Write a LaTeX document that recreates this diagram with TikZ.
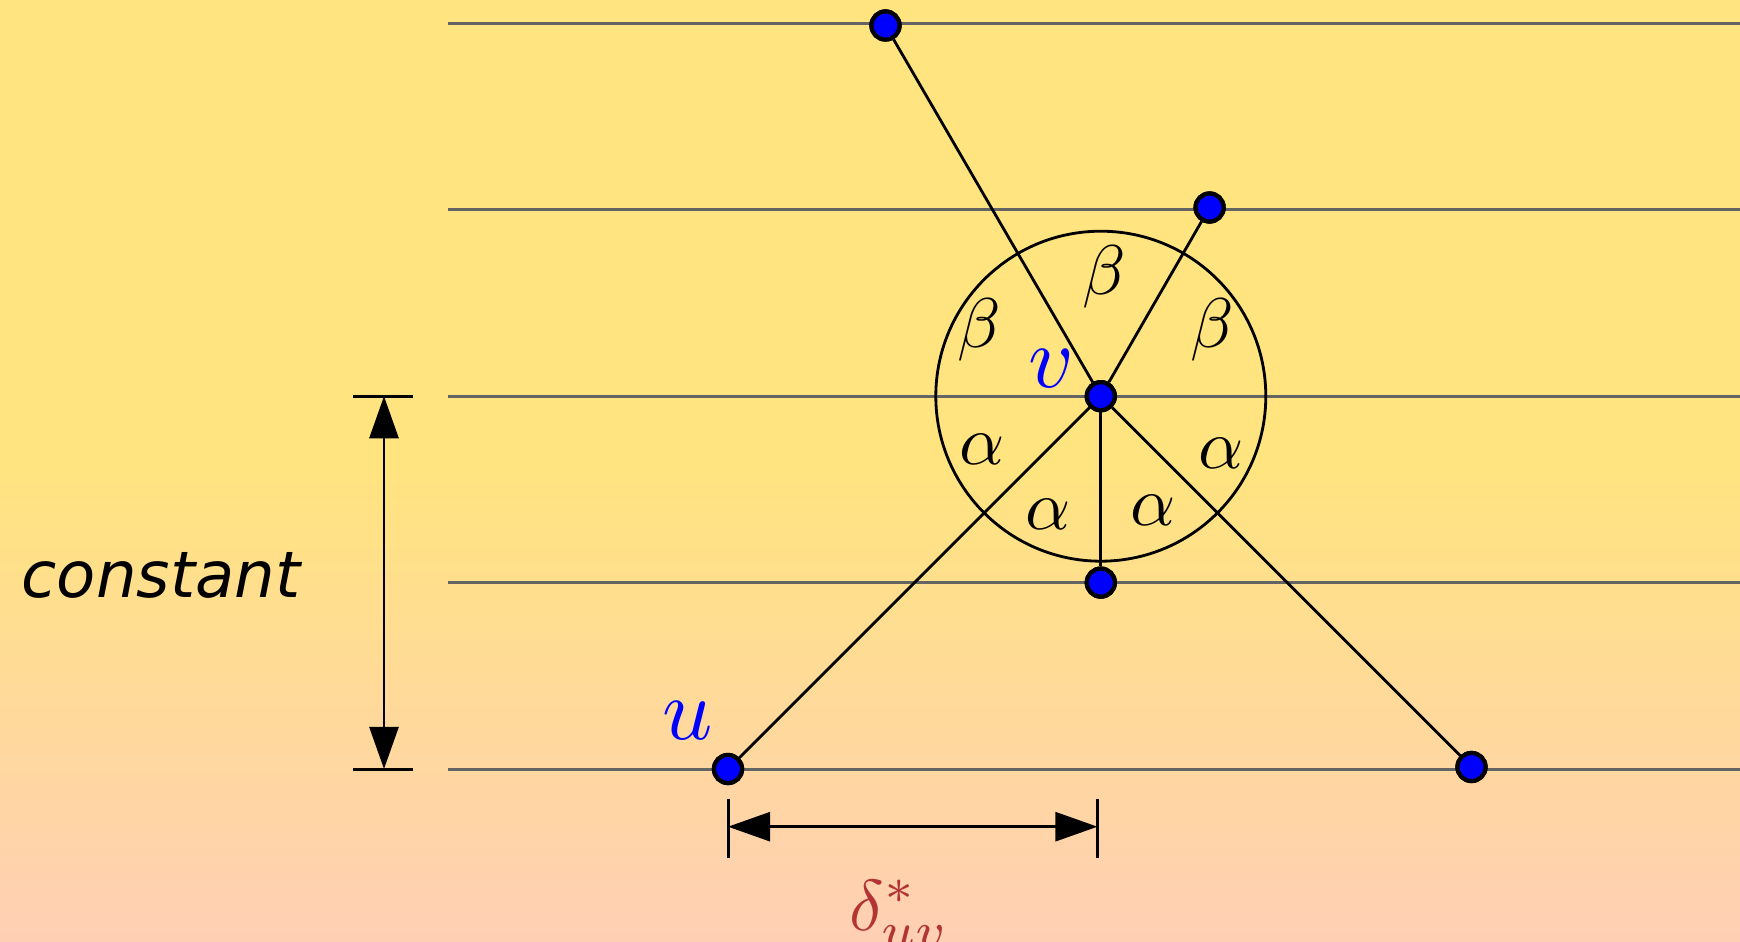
\documentclass[tikz,border=0pt]{standalone}
\usepackage{fontspec}
\newfontfamily\dejavu{DejaVu Sans}
\usetikzlibrary{arrows.meta}
\definecolor{bgtop}{RGB}{255,228,128}
\definecolor{bgbot}{RGB}{255,207,180}
\definecolor{gridgray}{RGB}{100,100,100}
\definecolor{ptblue}{RGB}{0,0,255}
\definecolor{deltared}{RGB}{178,52,52}
\tikzset{
  gridline/.style={draw=gridgray, line width=1.7pt},
  edge/.style={draw=black, line width=1.6pt},
  pt/.style={circle, fill=ptblue, draw=black, line width=2.4pt, minimum size=16pt, inner sep=0pt},
  greek/.style={scale=4, inner sep=0pt},
  vlabel/.style={scale=5, text=ptblue, inner sep=0pt},
  dimline/.style={draw=black, line width=1.7pt},
  dimarrow/.style={dimline, {Triangle[width=16.5pt,length=24pt]}-{Triangle[width=16.5pt,length=24pt]}},
}
\begin{document}
\begin{tikzpicture}[x=0.02cm, y=-0.02cm]
\useasboundingbox (0,0) rectangle (1740,942);
\fill[bgtop] (0,0) rectangle (1740,471);
\shade[top color=bgtop, bottom color=bgbot] (0,470) rectangle (1740,942);
% horizontal levels
\foreach \i/\yy in {1/23.3, 2/209.7, 3/396.2, 4/582.6, 5/769} {
  \coordinate (L\i) at (448,\yy);
  \coordinate (R\i) at (1740,\yy);
  \draw[gridline] (L\i) -- (R\i);
}
% circle around v
\coordinate (vc) at (1100.8,396.2);
\draw[edge] (vc) circle [radius=165];
% nodes
\node[pt] (top) at (885.5,25.5) {};
\node[pt] (tr) at (1209.6,207.5) {};
\node[pt] (v) at (vc) {};
\node[pt] (low) at (1100.8,582.6) {};
\node[pt] (u) at (728,769) {};
\node[pt] (br) at (1471.5,767) {};
\draw[edge] (v) -- (top);
\draw[edge] (v) -- (tr);
\draw[edge] (v) -- (low);
\draw[edge] (v) -- (u);
\draw[edge] (v) -- (br);
% redraw nodes on top
\node[pt] at (top) {};
\node[pt] at (tr) {};
\node[pt] at (v) {};
\node[pt] at (low) {};
\node[pt] at (u) {};
\node[pt] at (br) {};
% angle labels
\node[greek] (b1) at (1104,277) {$\beta$};
\node[greek] (b2) at (979,330) {$\beta$};
\node[greek] (b3) at (1212,330) {$\beta$};
\node[greek] (a1) at (982,449) {$\alpha$};
\node[greek] (a2) at (1221,453) {$\alpha$};
\node[greek] (a3) at (1048,514) {$\alpha$};
\node[greek] (a4) at (1153,510) {$\alpha$};
\node[vlabel] (vl) at (1051,369) {$v$};
\node[vlabel] (ul) at (688,721) {$u$};
% vertical dimension
\coordinate (vt1) at (353,396.2);
\coordinate (vt2) at (413,396.2);
\coordinate (vb1) at (353,769);
\coordinate (vb2) at (413,769);
\coordinate (va) at (384,396.2);
\coordinate (vb) at (384,769);
\draw[dimline] (vt1) -- (vt2);
\draw[dimline] (vb1) -- (vb2);
\draw[dimarrow] (va) -- (vb);
\node[font=\dejavu\itshape\fontsize{36.5}{44}\selectfont, inner sep=0pt] (const) at (161,575) {constant};
% horizontal dimension
\coordinate (hl1) at (728,799);
\coordinate (hl2) at (728,858);
\coordinate (hr1) at (1097.5,799);
\coordinate (hr2) at (1097.5,858);
\coordinate (ha) at (728,826.7);
\coordinate (hb) at (1097.5,826.7);
\draw[dimline] (hl1) -- (hl2);
\draw[dimline] (hr1) -- (hr2);
\draw[dimarrow] (ha) -- (hb);
\node[scale=4.1, text=deltared, inner sep=0pt, anchor=base] (dl) at (900,930) {$\delta^*_{uv}$};
\end{tikzpicture}
\end{document}
